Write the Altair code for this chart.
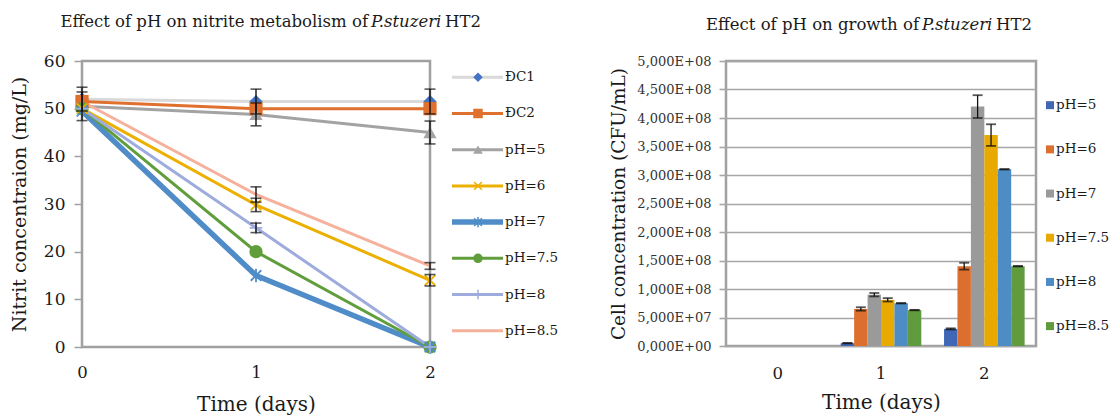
import altair as alt
import pandas as pd

# ---------------- data: nitrite (left chart) ----------------
days = [0, 1, 2]
nitrite_series = ["ĐC1", "ĐC2", "pH=5", "pH=6", "pH=7", "pH=7.5", "pH=8", "pH=8.5"]
dc1 = [52.0, 51.5, 51.5]
dc2 = [51.5, 50.0, 50.0]
ph5 = [50.5, 48.8, 45.0]
ph6 = [50.0, 29.8, 14.0]
ph7 = [49.5, 15.0, 0.0]
ph75 = [50.0, 20.0, 0.0]
ph8 = [50.0, 25.0, 0.0]
ph85 = [51.5, 32.0, 17.0]
dc1_err = [2.5, 2.6, 2.6]
dc2_err = [0.0, 0.0, 0.0]
ph5_err = [3.0, 2.4, 2.4]
ph6_err = [0.0, 1.4, 1.2]
ph7_err = [0.0, 0.0, 0.0]
ph75_err = [0.0, 0.0, 0.0]
ph8_err = [0.0, 1.0, 0.0]
ph85_err = [0.0, 1.6, 0.7]
nitrite_ticks = [0, 10, 20, 30, 40, 50, 60]

line_colors = ["#D9D9D9", "#E0702E", "#A3A3A3", "#EBB000", "#4F8CC8", "#5F9E3B", "#9EABDD", "#F5B19B"]
marker_colors = ["#4472C4", "#E0702E", "#A3A3A3", "#EBB000", "#4F8CC8", "#5F9E3B", "#9EABDD", "#F5B19B"]
marker_shapes = [
    "diamond", "square", "triangle-up",
    "M-1,-1L1,1M-1,1L1,-1",
    "M-1,-1L1,1M-1,1L1,-1M0,-1.3L0,1.3",
    "circle",
    "M-1.2,0L1.2,0M0,-1.2L0,1.2",
    "circle",
]
filled_series = ["ĐC1", "ĐC2", "pH=5", "pH=7.5"]
stroked_series = ["pH=6", "pH=7", "pH=8"]
thin_below = ["ĐC1", "ĐC2", "pH=5", "pH=6"]
thick_series = ["pH=7"]
thin_above = ["pH=7.5", "pH=8", "pH=8.5"]

# ---------------- data: growth (right chart) ----------------
growth_series = ["pH=5", "pH=6", "pH=7", "pH=7.5", "pH=8", "pH=8.5"]
growth_days = ["0", "1", "2"]
growth_day0 = [0.0, 0.0, 0.0, 0.0, 0.0, 0.0]
growth_day1 = [0.05e8, 0.65e8, 0.90e8, 0.81e8, 0.75e8, 0.63e8]
growth_day2 = [0.30e8, 1.40e8, 4.20e8, 3.70e8, 3.10e8, 1.40e8]
growth_err1 = [0.004e8, 0.03e8, 0.03e8, 0.03e8, 0.004e8, 0.004e8]
growth_err2 = [0.01e8, 0.06e8, 0.20e8, 0.19e8, 0.004e8, 0.004e8]
bar_colors = ["#3F67B5", "#DC6E2E", "#9A9A9A", "#E8A900", "#4E8CC6", "#609B3D"]
growth_ticks = [0, 5e7, 1e8, 1.5e8, 2e8, 2.5e8, 3e8, 3.5e8, 4e8, 4.5e8, 5e8]
growth_tick_labels = ["0,000E+00", "5,000E+07", "1,000E+08", "1,500E+08", "2,000E+08",
                      "2,500E+08", "3,000E+08", "3,500E+08", "4,000E+08", "4,500E+08", "5,000E+08"]

FONT = "DejaVu Serif"
TXT = "#1a1a1a"

# ---------------- build tables ----------------
vals = [dc1, dc2, ph5, ph6, ph7, ph75, ph8, ph85]
errs = [dc1_err, dc2_err, ph5_err, ph6_err, ph7_err, ph75_err, ph8_err, ph85_err]
rows = []
for i, s in enumerate(nitrite_series):
    for d, v, e in zip(days, vals[i], errs[i]):
        rows.append({"series": s, "order": i, "day": d, "value": v, "err": e, "lo": v - e, "hi": v + e})
nit = pd.DataFrame(rows)

grows = []
for day, gv, ge in zip(growth_days, [growth_day0, growth_day1, growth_day2],
                       [[0.0] * 6, growth_err1, growth_err2]):
    for s, v, e in zip(growth_series, gv, ge):
        grows.append({"day": day, "series": s, "value": v, "err": e, "lo": v - e, "hi": v + e})
gro = pd.DataFrame(grows)

stroke_scale = alt.Scale(domain=nitrite_series, range=line_colors)
fill_scale = alt.Scale(domain=nitrite_series, range=marker_colors)
shape_scale = alt.Scale(domain=nitrite_series, range=marker_shapes)


def only(base, names):
    return base.transform_filter(alt.FieldOneOfPredicate(field="series", oneOf=names))


# ---------------- left chart ----------------
LW, LH = 348, 286
xl = alt.X("day:O", scale=alt.Scale(type="point", padding=0, domain=days),
           axis=alt.Axis(title="Time (days)", grid=False, labelAngle=0,
                         domain=False, ticks=False, labelPadding=17, labelFontSize=16.5, labelFont=FONT,
                         labelColor=TXT, labelOverlap=False, titleFont=FONT,
                         titleFontSize=20, titleFontWeight="normal", titleColor=TXT, titlePadding=14))
yl = alt.Y("value:Q", scale=alt.Scale(domain=[0, 60], nice=False),
           axis=alt.Axis(values=nitrite_ticks, tickCount=len(nitrite_ticks), title="Nitrit concentraion (mg/L)",
                         grid=False, domain=False, tickSize=8, tickColor="#A0A0A0", tickWidth=1.5,
                         labelPadding=9, labelFontSize=17, labelFont=FONT, labelColor=TXT,
                         labelFlush=False, labelOverlap=False, titleFont=FONT, titleFontSize=19,
                         titleFontWeight="normal", titleColor=TXT, titlePadding=14))

base_l = alt.Chart(nit)


def line_layer(names, width, with_axes=False):
    return only(base_l, names).mark_line(strokeWidth=width).encode(
        x=xl if with_axes else "day:O",
        y=yl if with_axes else "value:Q",
        stroke=alt.Stroke("series:N", scale=stroke_scale, legend=None),
        order=alt.Order("day:Q"),
        detail="series:N",
    )


lines_a = line_layer(thin_below, 3, with_axes=True)
lines_b = line_layer(thick_series, 5.5)
lines_c = line_layer(thin_above, 3)

pts_f = only(base_l, filled_series).mark_point(filled=True, opacity=1, size=175, strokeWidth=0).encode(
    x="day:O", y="value:Q",
    fill=alt.Fill("series:N", scale=fill_scale, legend=None),
    shape=alt.Shape("series:N", scale=shape_scale, legend=None),
    order=alt.Order("order:Q"),
)
pts_s = only(base_l, stroked_series).mark_point(filled=False, opacity=1, size=110, strokeWidth=1.8).encode(
    x="day:O", y="value:Q",
    stroke=alt.Stroke("series:N", scale=stroke_scale, legend=None),
    shape=alt.Shape("series:N", scale=shape_scale, legend=None),
)
eb = base_l.transform_filter("datum.err > 0")
err_rule = eb.mark_rule(color="#111", strokeWidth=1.4).encode(x="day:O", y="lo:Q", y2="hi:Q")
cap_lo = eb.mark_tick(color="#111", orient="horizontal", size=11, thickness=1.6).encode(x="day:O", y="lo:Q")
cap_hi = eb.mark_tick(color="#111", orient="horizontal", size=11, thickness=1.6).encode(x="day:O", y="hi:Q")


def title_piece(text, x, y, align, italic=False, size=16.5):
    return alt.Chart(pd.DataFrame({"t": [text]})).mark_text(
        align=align, baseline="middle", font=FONT, fontSize=size, color=TXT,
        fontStyle="italic" if italic else "normal").encode(
        text="t:N", x=alt.value(x), y=alt.value(y))


left_title = [
    title_piece("Effect of pH on nitrite metabolism of", 286, -39, "right"),
    title_piece("P.stuzeri", 289, -39, "left", italic=True),
    title_piece("HT2", 363, -39, "left"),
]
left = alt.layer(lines_a, lines_b, lines_c, pts_f, pts_s, err_rule, cap_lo, cap_hi,
                 *left_title).properties(width=LW, height=LH)

# ---------------- left legend ----------------
leg_l = pd.DataFrame({"series": nitrite_series, "idx": list(range(len(nitrite_series)))})
yleg = alt.Y("idx:Q", scale=alt.Scale(domain=[-0.45, 7.45], reverse=True, nice=False, zero=False), axis=None)
bl = alt.Chart(leg_l)


def leg_line(names, width, first=False):
    return only(bl, names).mark_rule(strokeWidth=width).encode(
        x=alt.value(14), x2=alt.value(65), y=yleg if first else "idx:Q",
        stroke=alt.Stroke("series:N", scale=stroke_scale, legend=None),
    )


leg_pf = only(bl, filled_series).mark_point(filled=True, opacity=1, size=90, strokeWidth=0).encode(
    x=alt.value(40), y="idx:Q",
    fill=alt.Fill("series:N", scale=fill_scale, legend=None),
    shape=alt.Shape("series:N", scale=shape_scale, legend=None),
)
leg_ps = only(bl, stroked_series).mark_point(filled=False, opacity=1, size=60, strokeWidth=1.5).encode(
    x=alt.value(40), y="idx:Q",
    stroke=alt.Stroke("series:N", scale=stroke_scale, legend=None),
    shape=alt.Shape("series:N", scale=shape_scale, legend=None),
)
leg_txt = bl.mark_text(align="left", baseline="middle", font=FONT, fontSize=13.5, color=TXT).encode(
    x=alt.value(67), y="idx:Q", text="series:N")
left_leg = alt.layer(leg_line(thin_below + thin_above, 3, first=True), leg_line(thick_series, 5.5),
                     leg_pf, leg_ps, leg_txt).properties(
    width=280, height=LH, view=alt.ViewBackground(stroke=None))

# ---------------- right chart ----------------
RW, RH = 310, 285
color_scale = alt.Scale(domain=growth_series, range=bar_colors)
label_expr = "[" + ",".join("'" + t + "'" for t in growth_tick_labels) + "][round(datum.value / 5e7)]"
xr = alt.X("day:N", sort=growth_days, scale=alt.Scale(paddingInner=0.22, paddingOuter=0.11),
           axis=alt.Axis(title="Time (days)", labelAngle=0, domain=False, ticks=False, grid=False,
                         labelPadding=19, labelFontSize=16.5, labelFont=FONT, labelColor=TXT,
                         labelOverlap=False, titleFont=FONT, titleFontSize=20, titleFontWeight="normal",
                         titleColor=TXT, titlePadding=11))
yr = alt.Y("value:Q", scale=alt.Scale(domain=[0, 5e8], nice=False),
           axis=alt.Axis(values=growth_ticks, tickCount=len(growth_ticks), labelExpr=label_expr,
                         title="Cell concentration (CFU/mL)",
                         domain=False, grid=True, gridColor="#A6A6A6", gridWidth=1.6,
                         tickSize=7, tickColor="#A6A6A6", tickWidth=1.6, labelPadding=8,
                         labelFontSize=13, labelFont=FONT, labelColor="#333", labelOverlap=False,
                         labelFlush=False, titleFont=FONT, titleFontSize=18.5, titleFontWeight="normal",
                         titleColor=TXT, titlePadding=8))
xoff = alt.XOffset("series:N", sort=growth_series, scale=alt.Scale(paddingInner=0, paddingOuter=0))
base_r = alt.Chart(gro)
bars = base_r.mark_bar().encode(
    x=xr, y=yr, xOffset=xoff,
    color=alt.Color("series:N", scale=color_scale, legend=None),
)
ebr = base_r.transform_filter("datum.err > 0")
r_rule = ebr.mark_rule(color="#111", strokeWidth=1.3).encode(x="day:N", xOffset=xoff, y="lo:Q", y2="hi:Q")
r_cap_lo = ebr.mark_tick(color="#111", orient="horizontal", size=10, thickness=1.8).encode(
    x="day:N", xOffset=xoff, y="lo:Q")
r_cap_hi = ebr.mark_tick(color="#111", orient="horizontal", size=10, thickness=1.8).encode(
    x="day:N", xOffset=xoff, y="hi:Q")
right_title = [
    title_piece("Effect of pH on growth of", 193, -36, "right"),
    title_piece("P.stuzeri", 196, -36, "left", italic=True),
    title_piece("HT2", 270, -36, "left"),
]
right = alt.layer(bars, r_rule, r_cap_lo, r_cap_hi, *right_title).properties(width=RW, height=RH)

# ---------------- right legend ----------------
leg_r = pd.DataFrame({"series": growth_series, "idx": list(range(len(growth_series)))})
yleg_r = alt.Y("idx:Q", scale=alt.Scale(domain=[-1.0, 5.45], reverse=True, nice=False, zero=False), axis=None)
br = alt.Chart(leg_r)
leg_sq = br.mark_square(size=64, opacity=1).encode(
    x=alt.value(6), y=yleg_r, color=alt.Color("series:N", scale=color_scale, legend=None))
leg_rt = br.mark_text(align="left", baseline="middle", font=FONT, fontSize=13.5, color=TXT).encode(
    x=alt.value(12), y="idx:Q", text="series:N")
right_leg = alt.layer(leg_sq, leg_rt).properties(width=68, height=RH, view=alt.ViewBackground(stroke=None))

chart = alt.hconcat(left, left_leg, right, right_leg, spacing=8, bounds="flush").resolve_scale(
    x="independent", y="independent", color="independent", stroke="independent",
    fill="independent", shape="independent",
).properties(
    padding={"left": 9, "top": 12, "right": 0, "bottom": 0},
    background="white",
).configure_view(stroke="#A0A0A0", strokeWidth=2.5)

chart.save("out.html", embed_options={"renderer": "svg", "actions": False})
